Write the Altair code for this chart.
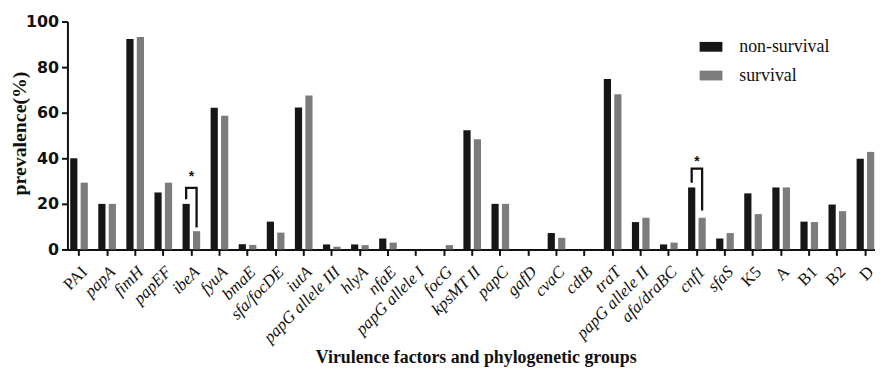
import altair as alt
import pandas as pd

categories = ["PAI", "papA", "fimH", "papEF", "ibeA", "fyuA", "bmaE", "sfa/focDE",
              "iutA", "papG allele III", "hlyA", "nfaE", "papG allele I", "focG",
              "kpsMT II", "papC", "gafD", "cvaC", "cdtB", "traT", "papG allele II",
              "afa/draBC", "cnf1", "sfaS", "K5", "A", "B1", "B2", "D"]
non_survival = [40, 20, 92.3, 25, 20, 62.2, 2.3, 12.2, 62.3, 2.2, 2.2, 4.8, 0, 0,
                52.3, 20, 0, 7.2, 0, 74.8, 12, 2.2, 27.2, 4.8, 24.6, 27.2, 12.2, 19.7, 39.8]
survival = [29.3, 20, 93.2, 29.3, 8, 58.7, 2, 7.4, 67.5, 1.2, 1.9, 3.0, 0, 1.9,
            48.3, 20, 0, 5.1, 0, 68.1, 13.9, 3.0, 13.9, 7.2, 15.5, 27.2, 12, 16.8, 42.8]
series = ["non-survival", "survival"]
colors = ["#161616", "#7c7c7c"]
upright_labels = ["PAI", "K5", "A", "B1", "B2", "D"]

# significance brackets (ibeA, cnf1)
bracket_cats = ["ibeA"] * 4 + ["cnf1"] * 4
bracket_series = ["non-survival", "non-survival", "survival", "survival"] * 2
bracket_y = [22.0, 27.0, 27.0, 9.6, 29.3, 35.5, 35.5, 17.1]
bracket_order = [0, 1, 2, 3] * 2
star_cats = ["ibeA", "cnf1"]
star_y = [30.0, 36.8]

rows = []
for c, a, b in zip(categories, non_survival, survival):
    rows.append({"factor": c, "group": series[0], "value": a})
    rows.append({"factor": c, "group": series[1], "value": b})
df = pd.DataFrame(rows)
br = pd.DataFrame({"factor": bracket_cats, "group": bracket_series,
                   "value": bracket_y, "ord": bracket_order})
st = pd.DataFrame({"factor": star_cats, "value": star_y, "t": ["*", "*"]})

test = "indexof(" + str(upright_labels) + ", datum.value) >= 0"

x = alt.X("factor:N", sort=categories,
          scale=alt.Scale(domain=categories, paddingInner=0, paddingOuter=0, range=[-2.5, 819.5]),
          axis=alt.Axis(title="Virulence factors and phylogenetic groups",
                        labelAngle=-45, labelAlign="right", labelBaseline="top",
                        labelPadding=8, labelFont="Liberation Serif", labelFontSize=17,
                        labelColor="#111",
                        labelFontStyle={"condition": {"test": test, "value": "normal"}, "value": "italic"},
                        tickSize=6, tickWidth=2, tickColor="#111",
                        domainColor="#111", domainWidth=2,
                        titleFont="Liberation Serif", titleFontSize=18, titleFontWeight="bold",
                        titleColor="#111", titleX=412, titleY=114, titleAlign="center",
                        titleBaseline="alphabetic", labelOverlap=False))
xoff = alt.XOffset("group:N", sort=series,
                   scale=alt.Scale(domain=series, paddingInner=0.31, paddingOuter=0.5))
y = alt.Y("value:Q", scale=alt.Scale(domain=[0, 100], nice=False),
          axis=alt.Axis(title="prevalence(%)", values=[0, 20, 40, 60, 80, 100],
                        grid=False, labelFont="DejaVu Sans", labelFontWeight="bold",
                        labelFontSize=16, labelColor="#111", labelPadding=3,
                        tickSize=6, tickWidth=2, tickColor="#111",
                        domainColor="#111", domainWidth=2,
                        titleFont="Liberation Serif", titleFontSize=20, titleFontWeight="bold",
                        titleColor="#111", titleAngle=-90, titleX=-48, titleY=112.5,
                        titleAlign="center", titleBaseline="middle"))

bars = alt.Chart(df).mark_bar().encode(
    x=x, xOffset=xoff, y=y,
    color=alt.Color("group:N", sort=series,
                    scale=alt.Scale(domain=series, range=colors),
                    legend=alt.Legend(orient="none", legendX=638, legendY=14, title=None,
                                      symbolType="M-1,-0.43H1V0.43H-1Z", symbolSize=529,
                                      symbolStrokeWidth=0, symbolOpacity=1,
                                      labelFont="Liberation Serif", labelFontSize=18,
                                      labelColor="#111", labelOffset=17, rowPadding=8)),
)

brackets = alt.Chart(br).mark_line(color="#111", strokeWidth=2.3).encode(
    x=alt.X("factor:N", sort=categories), xOffset=alt.XOffset("group:N", sort=series),
    y="value:Q", detail="factor:N", order="ord:Q")

stars = alt.Chart(st).mark_text(font="Liberation Sans", fontWeight="bold", fontSize=14,
                                color="#111", baseline="alphabetic").encode(
    x=alt.X("factor:N", sort=categories), y="value:Q", text="t:N")

chart = alt.layer(bars, brackets, stars).properties(
    width=815, height=230,
    autosize=alt.AutoSizeParams(type="none"),
    padding={"left": 60, "top": 12, "right": 0, "bottom": 120},
    background="white",
).configure_view(stroke=None)

chart.save("out.html", embed_options={"renderer": "svg", "actions": False})
